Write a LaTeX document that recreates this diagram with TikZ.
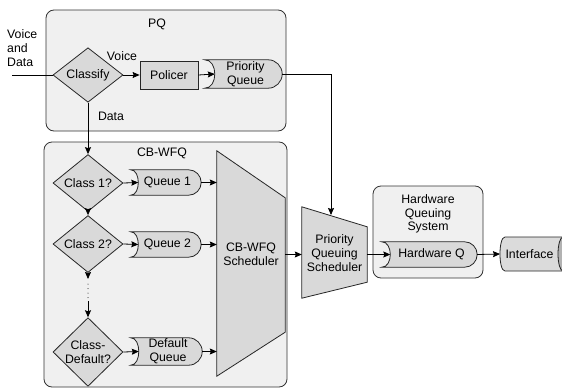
\documentclass[tikz,border=0pt]{standalone}
\usepackage{fontspec}
\setmainfont{Liberation Sans}
\usetikzlibrary{shapes.geometric,arrows.meta,calc,backgrounds}
\newcommand\qoutline[3]{% #1 node name, #2 bulge of concave left end, #3 radius of right end
  \draw[shp] (#1.north west) -- ($(#1.north east)+(-#3,0)$)
    .. controls ($(#1.north east)+(-0.448*#3,0)$) and ($(#1.east)+(0,-0.552*#3)$) .. (#1.east)
    .. controls ($(#1.east)+(0,0.552*#3)$) and ($(#1.south east)+(-0.448*#3,0)$) .. ($(#1.south east)+(-#3,0)$)
    -- (#1.south west)
    .. controls ($(#1.south west)+(1.333*#2,0)$) and ($(#1.north west)+(1.333*#2,0)$) .. (#1.north west) -- cycle;}
\begin{document}
\begin{tikzpicture}[x=1pt,y=-1pt,
  font=\fontsize{12.3}{13.8}\selectfont,
  cont/.style={draw=black!80, fill=gray!12, rounded corners=8pt, line width=0.8pt, inner sep=0pt},
  shp/.style={draw=black!85, fill=gray!30, line width=0.8pt},
  dia/.style={diamond, shp, inner sep=0pt, minimum width=70pt, align=center},
  que/.style={rectangle, inner sep=0pt, align=center},
  box/.style={rectangle, shp, inner sep=0pt, align=center},
  txt/.style={inner sep=0pt, align=center},
  arr/.style={-{Stealth[length=7pt,width=6pt,inset=1pt]}, line width=0.8pt},
  ln/.style={line width=0.8pt}
]
\useasboundingbox (0,0) rectangle (562,388);

% containers
\begin{scope}[on background layer]
\fill[white] (0,0) rectangle (562,388);
\node[cont, minimum width=240pt, minimum height=121pt] (pqbox) at (166,70.5) {};
\node[cont, minimum width=243pt, minimum height=245pt] (cbbox) at (165.5,264.5) {};
\node[cont, minimum width=110pt, minimum height=92pt] (hwbox) at (428,232) {};
\end{scope}

\node[txt] (pqlab) at (157,24) {PQ};
\node[txt] (cblab) at (162,153) {CB-WFQ};
\node[txt] (hwlab) at (428,214) {Hardware\\Queuing\\System};
\node[txt, align=left, anchor=west] (vd) at (7,48) {Voice\\and\\Data};

% PQ section
\node[dia, minimum height=49pt] (cls) at (88,75) {Classify};
\node[box, minimum width=58pt, minimum height=28pt] (pol) at (169,75) {Policer};
\node[que, minimum width=77pt, minimum height=28pt] (pq) at (243.5,74) {\hspace*{4pt}Priority\\\hspace*{4pt}Queue};
\node[txt] (vlab) at (122,56) {Voice};
\node[txt] (dlab) at (111,116) {Data};

% CB-WFQ section
\node[dia, minimum height=50pt] (c1) at (88,183) {Class 1?};
\node[dia, minimum height=48pt] (c2) at (88,244) {Class 2?};
\node[dia, minimum height=51pt] (cd) at (88,352) {Class-\\Default?};
\node[que, minimum width=70pt, minimum height=25pt] (q1) at (166,182.5) {\hspace*{3pt}Queue 1};
\node[que, minimum width=70pt, minimum height=25pt] (q2) at (166,244.5) {\hspace*{3pt}Queue 2};
\node[que, minimum width=71pt, minimum height=27pt] (qd) at (166.5,351.5) {\hspace*{3pt}Default\\\hspace*{3pt}Queue};

% schedulers
\node[inner sep=0pt, minimum width=68pt, minimum height=225pt] (cbs) at (251,263.5) {};
\draw[shp] (cbs.north west) -- ($(cbs.north east)+(0,47)$) -- ($(cbs.south east)+(0,-44)$) -- (cbs.south west) -- cycle;
\node[txt] (cbslab) at (251,254) {CB-WFQ\\Scheduler};

\node[inner sep=0pt, minimum width=65pt, minimum height=91pt] (pqs) at (334.5,252.5) {};
\draw[shp] (pqs.north west) -- ($(pqs.north east)+(0,20)$) -- ($(pqs.south east)+(0,-16)$) -- (pqs.south west) -- cycle;
\node[txt] (pqslab) at (334.5,253) {Priority\\Queuing\\Scheduler};

% hardware
\node[que, minimum width=95pt, minimum height=25pt] (hwq) at (429.5,254.5) {\hspace*{4pt}Hardware Q};

% queue outlines
\begin{scope}[on background layer]
\qoutline{pq}{10}{14}
\qoutline{q1}{7.5}{12.5}
\qoutline{q2}{7.5}{12.5}
\qoutline{qd}{8}{13.5}
\qoutline{hwq}{8.5}{12.5}
\end{scope}

% interface cylinder
\draw[shp, fill=gray!28] (505,237) -- (563,237) -- (563,271) -- (505,271)
   .. controls (498.3,271) and (498.3,237) .. (505,237) -- cycle;
\draw[shp, fill=gray!60] (563,254) ellipse [x radius=5, y radius=17];
\node[txt] (ifc) at (529.5,254) {Interface};
\coordinate (ifcw) at (500,254);

% inner points of the concave queue ends
\coordinate (pqin) at ($(pq.west)+(10,0)$);
\coordinate (q1in) at ($(q1.west)+(7.5,0)$);
\coordinate (q2in) at ($(q2.west)+(7.5,0)$);
\coordinate (qdin) at ($(qd.west)+(8,0)$);
\coordinate (hwin) at ($(hwq.west)+(8.5,0)$);

% connectors
\coordinate (in) at (12,75);
\draw[ln] (in) -- (cls.west);
\draw[arr] (cls.east) -- (pol.west);
\draw[arr] (pol.east) -- (pqin);
\coordinate (pqtop) at (331,215);
\draw[arr] (pq.east) -| (pqtop);
\draw[arr] (cls.south) -- (c1.north);
\draw[arr] (c1.south) -- (c2.north);
\coordinate (d1) at (88,279);
\coordinate (d2) at (88,284);
\coordinate (d3) at (88,298);
\coordinate (d4) at (88,301);
\draw[arr] (c2.south) -- (d1);
\draw[line width=1pt, line cap=round, dash pattern=on 0pt off 4.5pt] (d2) -- (d3);
\draw[arr] (d4) -- (cd.north);
\draw[arr] (c1.east) -- (q1in);
\draw[arr] (c2.east) -- (q2in);
\draw[arr] (cd.east) -- (qdin);
\draw[arr] (q1.east) -- (q1.east -| cbs.west);
\draw[arr] (q2.east) -- (q2.east -| cbs.west);
\draw[arr] (qd.east) -- (qd.east -| cbs.west);
\draw[arr] (cbs.east |- hwq.west) -- (pqs.west |- hwq.west);
\draw[arr] (pqs.east |- hwq.west) -- (hwin);
\draw[arr] (hwq.east) -- (ifcw);
\end{tikzpicture}
\end{document}
